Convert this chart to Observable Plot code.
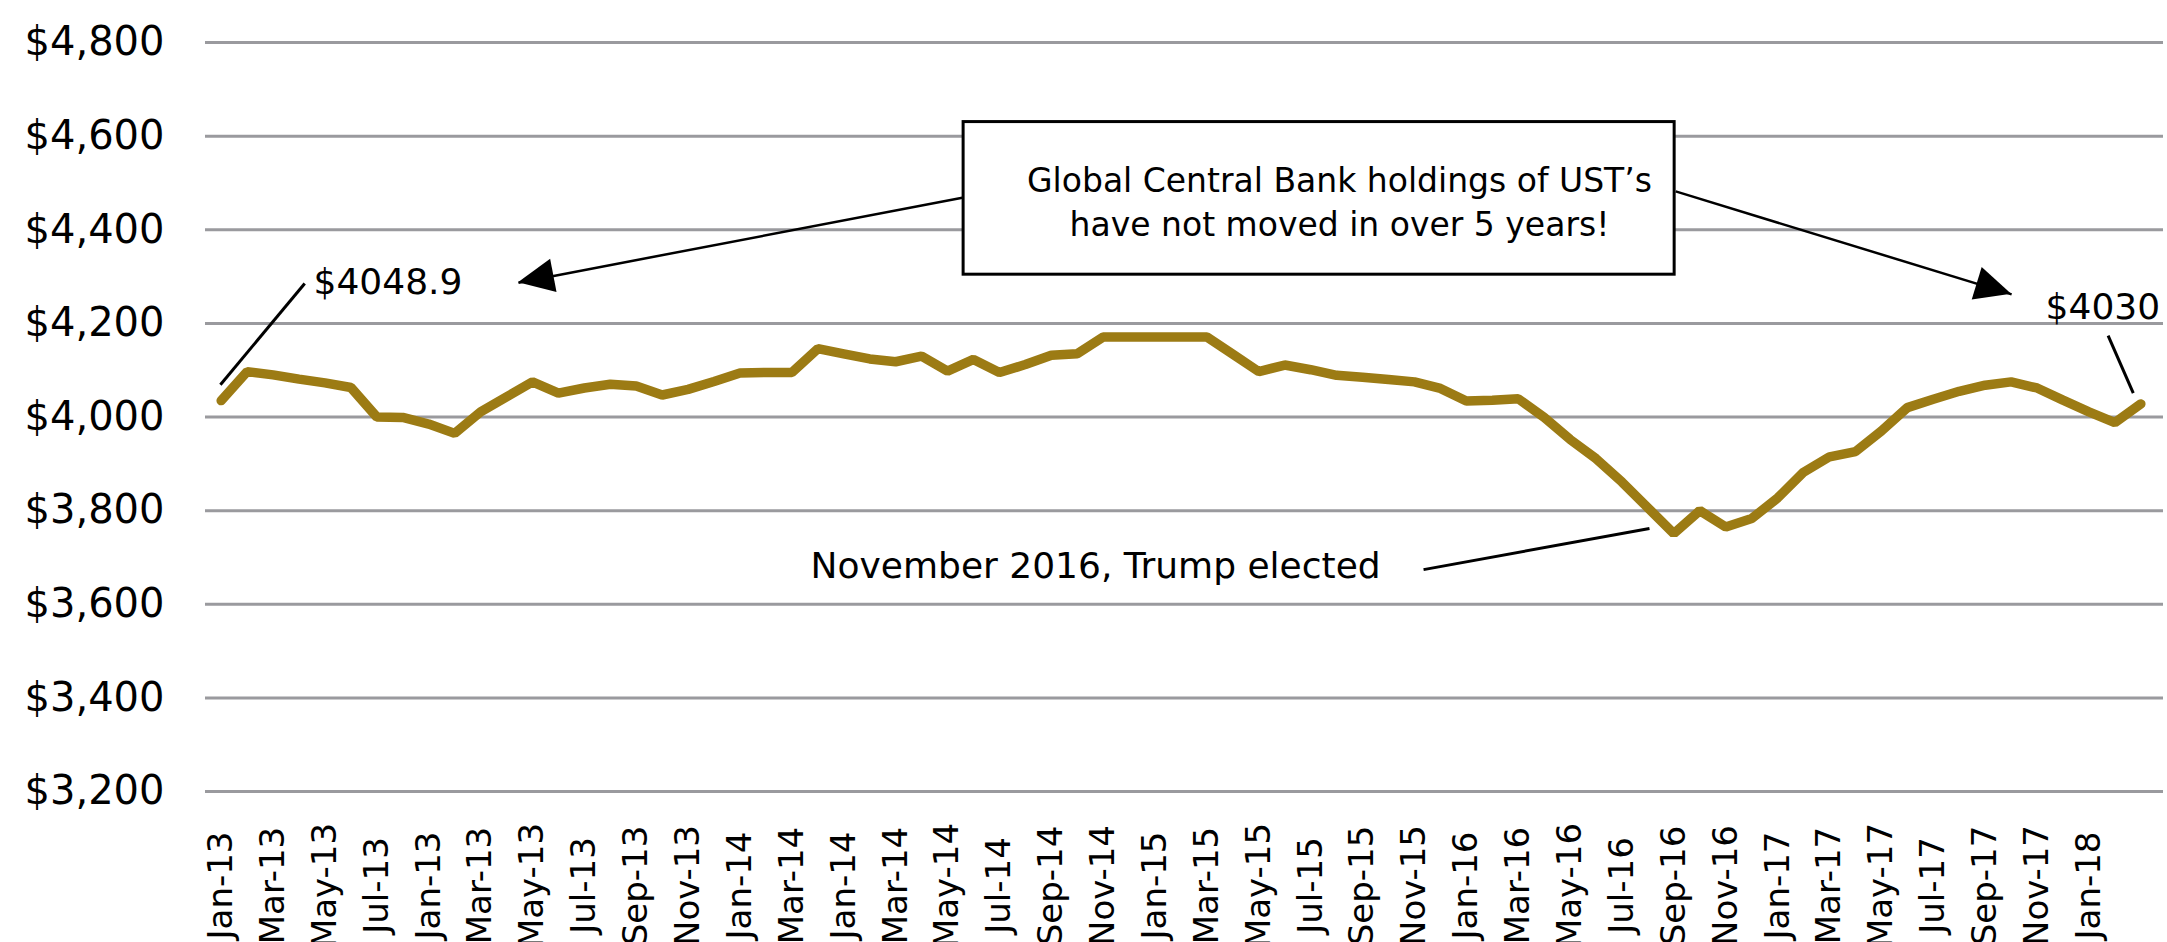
<!DOCTYPE html>
<html><head><meta charset="utf-8">
<script src="https://cdn.jsdelivr.net/npm/d3@7"></script>
<script src="https://cdn.jsdelivr.net/npm/@observablehq/plot@0.6"></script>
<style>html,body{margin:0;padding:0;background:#fff;overflow:hidden}</style>
</head><body><div id="chart"></div>
<script>
// Tick labels shown under the chart (every other category)
const tickLabels = ["Jan-13","Mar-13","May-13","Jul-13","Jan-13","Mar-13","May-13","Jul-13","Sep-13","Nov-13","Jan-14","Mar-14","Jan-14","Mar-14","May-14","Jul-14","Sep-14","Nov-14","Jan-15","Mar-15","May-15","Jul-15","Sep-15","Nov-15","Jan-16","Mar-16","May-16","Jul-16","Sep-16","Nov-16","Jan-17","Mar-17","May-17","Jul-17","Sep-17","Nov-17","Jan-18"];

// Global central bank holdings of UST's ($bn), one value per category
const holdings = [4035,4097,4090,4081,4073,4063,4000,3999,3985,3965,
  4011,4043,4075,4051,4062,4070,4066,4047,4059,4076,
  4094,4095,4095,4146,4135,4124,4118,4130,4098,4123,
  4095,4112,4132,4135,4171,4171,4171,4171,4171,4134,
  4097,4111,4101,4089,4085,4080,4075,4061,4034,4036,
  4039,3999,3952,3911,3861,3806,3751,3800,3765,3783,
  3827,3882,3915,3926,3970,4020,4038,4055,4068,4075,
  4062,4036,4011,3988,4028];

const yDomain = [3200, 4800];

// Annotations (in data coordinates: category index, value)
const sideLabels = [
  {x: 3.56, y: 4288, text: "$4048.9"},
  {x: 70.33, y: 4235, text: "$4030"},
  {x: 22.72, y: 3680, text: "November 2016, Trump elected"}
];
const boxLabel = [
  {x: 43.11, y: 4464, text: "Global Central Bank holdings of UST\u2019s\nhave not moved in over 5 years!"}
];
const leaders = [
  {x1: -0.03, y1: 4069, x2: 3.22, y2: 4285},
  {x1: 72.74, y1: 4174, x2: 73.71, y2: 4051},
  {x1: 46.35, y1: 3674, x2: 55.06, y2: 3762}
];
const arrows = [
  {x1: 28.62, y1: 4469, x2: 11.46, y2: 4287},
  {x1: 56.07, y1: 4482, x2: 69.02, y2: 4262}
];
const box = [{x1: 28.62, x2: 56.03, y1: 4304, y2: 4630}];

const data = holdings.map((v, i) => ({i, v}));
const tickIdx = tickLabels.map((_, k) => 2 * k);

const plot = Plot.plot({
  width: 2167,
  height: 942,
  marginLeft: 205,
  marginRight: 4,
  marginTop: 42,
  marginBottom: 151,
  style: {fontFamily: "DejaVu Sans", fontSize: "40px", color: "#000", background: "#fff"},
  x: {type: "linear", domain: [-0.605, 74.875], axis: null},
  y: {domain: yDomain, ticks: 8, tickFormat: d3.format("$,"), tickSize: 0, tickPadding: 41, label: null},
  marks: [
    Plot.gridY({ticks: 8, stroke: "#9a9a9e", strokeOpacity: 1, strokeWidth: 3}),
    Plot.line(data, {x: "i", y: "v", stroke: "#9c7b14", strokeWidth: 9.5, strokeLinejoin: "miter", strokeLinecap: "round"}),
    Plot.link(leaders, {x1: "x1", y1: "y1", x2: "x2", y2: "y2", stroke: "#000", strokeWidth: 3}),
    Plot.link(arrows, {x1: "x1", y1: "y1", x2: "x2", y2: "y2", stroke: "#000", strokeWidth: 2.5}),
    Plot.rect(box, {x1: "x1", x2: "x2", y1: "y1", y2: "y2", fill: "#fff", stroke: "#000", strokeWidth: 3}),
    Plot.text(sideLabels, {x: "x", y: "y", text: "text", fontSize: 36, textAnchor: "start", fill: "#000"}),
    Plot.text(boxLabel, {x: "x", y: "y", text: "text", fontSize: 33, textAnchor: "middle", lineHeight: 1.33, fill: "#000"}),
    Plot.text(tickIdx, {x: d => d, text: (d, k) => tickLabels[k], frameAnchor: "bottom", dy: 94, rotate: -90, textAnchor: "middle", lineAnchor: "middle", fontSize: 34, fill: "#000"})
  ]
});
document.getElementById("chart").appendChild(plot);

// Filled arrowheads placed through the plot's scales
const sx = plot.scale("x"), sy = plot.scale("y");
const svg = d3.select(plot);
arrows.forEach(a => {
  const x1 = sx.apply(a.x1), y1 = sy.apply(a.y1), x2 = sx.apply(a.x2), y2 = sy.apply(a.y2);
  const dx = x2 - x1, dy = y2 - y1, L = Math.hypot(dx, dy);
  const ux = dx / L, uy = dy / L, px = -uy, py = ux;
  const len = 36, hw = 17;
  const bx = x2 - ux * len, by = y2 - uy * len;
  svg.append("polygon")
    .attr("points", `${x2},${y2} ${bx + px * hw},${by + py * hw} ${bx - px * hw},${by - py * hw}`)
    .attr("fill", "#000");
});
</script>
</body></html>
